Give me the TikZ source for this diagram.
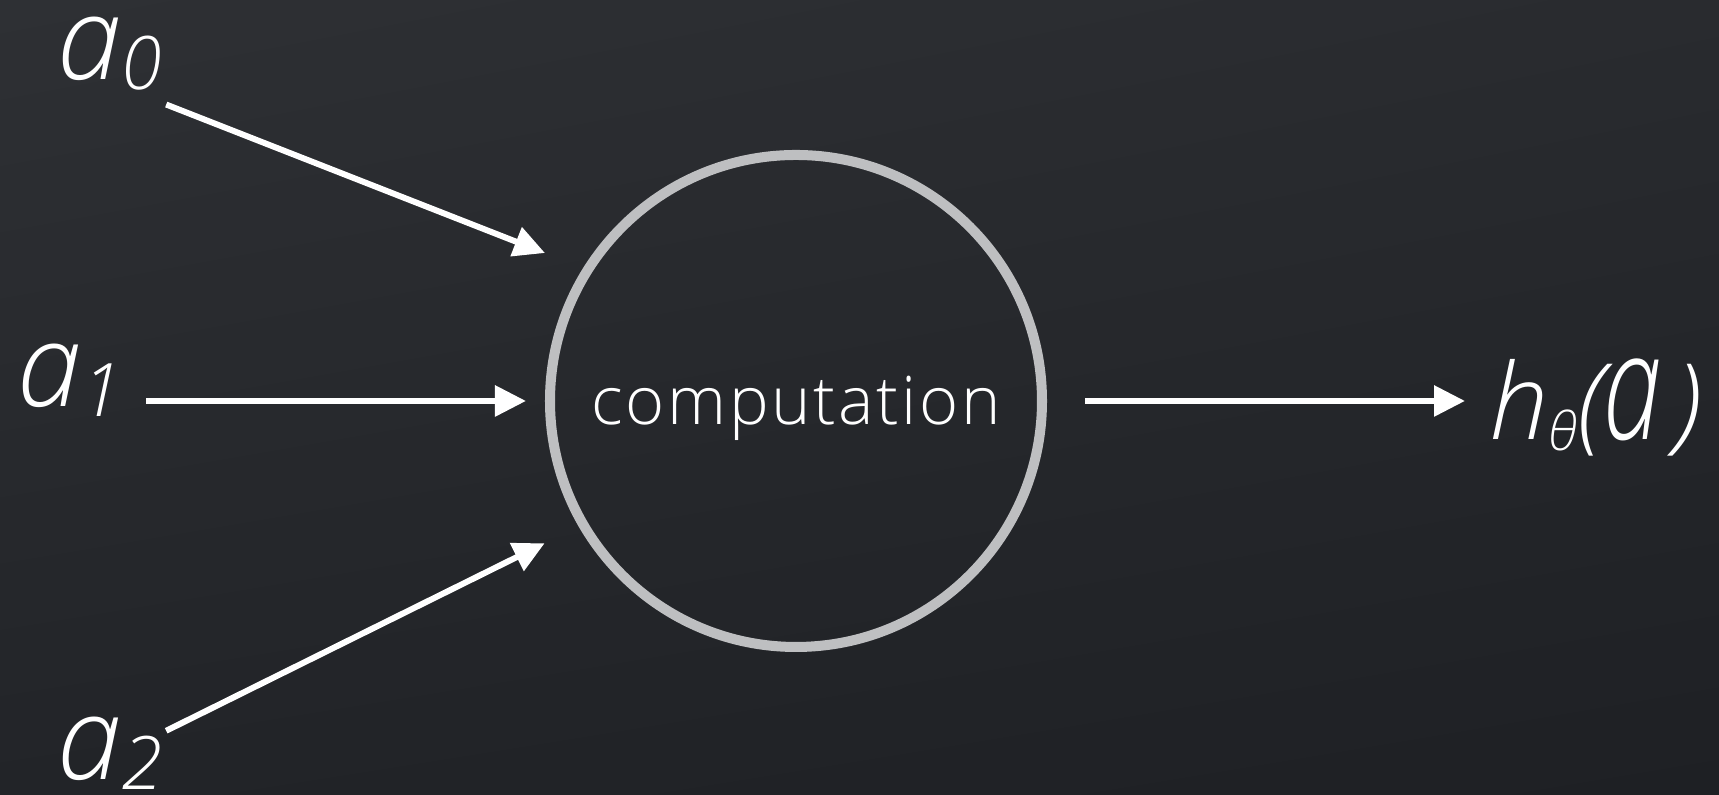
\documentclass[tikz,border=0pt]{standalone}
\usepackage{graphicx}
\usepackage{fontspec}
\IfFontExistsTF{Open Sans Light}
  {\IfFontExistsTF{Open Sans Light Italic}
     {\setmainfont{Open Sans Light}[ItalicFont={Open Sans Light Italic}]}
     {\setmainfont{Open Sans Light}[ItalicFont={Open Sans Italic}]}}
  {\setmainfont{Open Sans}}
\usetikzlibrary{arrows.meta, shadings}

\definecolor{bgtl}{HTML}{2E3034}
\definecolor{bgtr}{HTML}{292B2F}
\definecolor{bgbl}{HTML}{222428}
\definecolor{bgbr}{HTML}{1E2024}
\definecolor{ring}{HTML}{BEBFC1}

\newcommand\lowidx[1]{\raisebox{-2.6pt}{\fontsize{21}{21}\selectfont #1}}

\begin{document}
\begin{tikzpicture}[every node/.style = {inner sep = 0, text = white},
  lbl/.style = {anchor = base west, font = \fontsize{33}{33}\selectfont\itshape},
  arr/.style = {white, line width = 1.7pt, -{Triangle[length=3.1mm, width=3mm]}}]

  \useasboundingbox (0,0) rectangle (17.19,7.95);
  \shade[upper left=bgtl, upper right=bgtr, lower left=bgbl, lower right=bgbr]
    (0,0) rectangle (17.19,7.95);

  \node[lbl] (a0) at (0.57,7.15) {a\lowidx{0}};
  \node[lbl] (a1) at (0.17,3.88) {a\lowidx{1}};
  \node[lbl] (a2) at (0.57,0.15) {a\lowidx{2}};
  \node[draw = ring, line width = 2.85pt, circle, minimum size = 4.92cm,
        font = \fontsize{19}{19}\selectfont\addfontfeatures{LetterSpace=4},
        text height = 13.5pt, text depth = 0pt] (comp) at (7.96,3.94) {computation};
  \node[anchor = base west, font = \fontsize{30}{30}\selectfont\itshape] (out) at (14.89,3.55)
    {h\raisebox{-3.1pt}{\fontsize{15}{15}\selectfont θ}(\scalebox{1}[1.42]{a}\kern4pt)};

  \draw[arr, shorten >= 4.1mm] ([shift={(0.03,-0.14)}]a0.south east) -- (comp.148);
  \draw[arr, shorten <= 2.3mm, shorten >= 1.9mm] (comp.west -| a1.east) -- (comp.west);
  \draw[arr, shorten >= 3.8mm] ([shift={(0.03,-0.14)}]a2.north east) -- (comp.210);
  \draw[arr, shorten <= 3.8mm, shorten >= 2.4mm] (comp.east) -- (comp.east -| out.west);
\end{tikzpicture}
\end{document}
